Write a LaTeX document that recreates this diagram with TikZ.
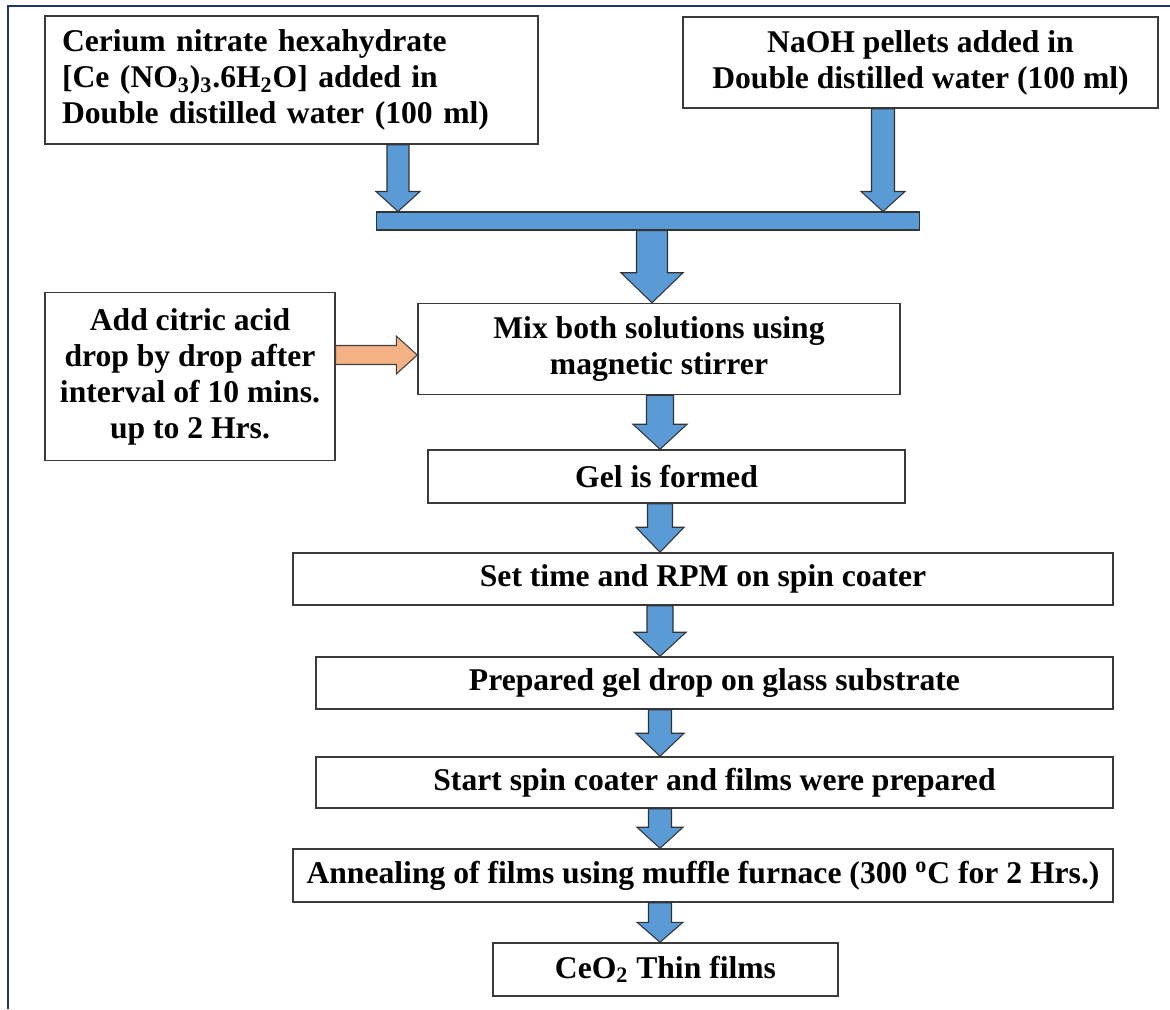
\documentclass[tikz,border=0pt]{standalone}
\usepackage{fontspec}
\setmainfont{Liberation Serif}
\usepackage{tikz}
\usetikzlibrary{calc}

\definecolor{blockblue}{HTML}{5B9BD5}
\definecolor{blockorange}{HTML}{F4B183}
\definecolor{framenavy}{HTML}{1F3864}
\definecolor{edgegray}{HTML}{3A3A3A}

% block arrow: from, to, shaft half-width, head half-width, head length (px)
\newcommand{\downblock}[5]{%
\draw[bluearrow] let \p1=(#1), \p2=(#2) in
 ({\x1-#3*0.02cm},\y1) -- ({\x1-#3*0.02cm},{\y2+#5*0.02cm}) -- ({\x1-#4*0.02cm},{\y2+#5*0.02cm})
 -- (\x1,\y2) -- ({\x1+#4*0.02cm},{\y2+#5*0.02cm}) -- ({\x1+#3*0.02cm},{\y2+#5*0.02cm})
 -- ({\x1+#3*0.02cm},\y1) -- cycle;}
\newcommand{\rightblock}[5]{%
\draw[orangearrow] let \p1=(#1), \p2=(#2) in
 (\x1,{\y1+#3*0.02cm}) -- ({\x2-#5*0.02cm},{\y1+#3*0.02cm}) -- ({\x2-#5*0.02cm},{\y1+#4*0.02cm})
 -- (\x2,\y1) -- ({\x2-#5*0.02cm},{\y1-#4*0.02cm}) -- ({\x2-#5*0.02cm},{\y1-#3*0.02cm})
 -- (\x1,{\y1-#3*0.02cm}) -- cycle;}

\begin{document}
\begin{tikzpicture}[x=0.02cm, y=-0.02cm,
  box/.style={draw=edgegray, line width=0.85pt, inner sep=0pt, align=center,
    font=\bfseries\fontsize{18}{20.5}\selectfont},
  bluearrow/.style={fill=blockblue, draw=black!80, line width=0.6pt, line join=miter},
  orangearrow/.style={fill=blockorange, draw=black!75, line width=0.6pt}]
\useasboundingbox (0,0) rectangle (1170,1009);
\draw[framenavy, line width=1.2pt] (8,1009) -- (8,6) -- (1170,6);

\node[box, align=left, text width=9.18cm, inner xsep=0.34cm, minimum height=2.56cm] (cerium) at (291.5,80)
  {Cerium nitrate hexahydrate\\{}[Ce (NO\textsubscript{3})\textsubscript{3}.6H\textsubscript{2}O] added in\\ Double distilled water (100 ml)};
\node[box, minimum width=9.5cm, minimum height=1.82cm] (naoh) at (920.5,62.5)
  {NaOH pellets added in\\ Double distilled water (100 ml)};
\node[bluearrow, inner sep=0pt, minimum width=10.88cm, minimum height=0.36cm] (mixbar) at (648,221) {};

\node[box, minimum width=5.8cm, minimum height=3.36cm] (citric) at (190,376.5)
  {Add citric acid\\ drop by drop after\\ interval of 10 mins.\\ up to 2 Hrs.};
\node[box, minimum width=9.64cm, minimum height=1.82cm] (mix) at (659,349)
  {Mix both solutions using\\ magnetic stirrer};
\node[box, minimum width=9.54cm, minimum height=1.06cm] (gel) at (666.5,476.5) {Gel is formed};
\node[box, minimum width=16.4cm, minimum height=1.04cm] (settime) at (703,579) {Set time and RPM on spin coater};
\node[box, minimum width=15.94cm, minimum height=1.04cm] (prepgel) at (714.5,683) {Prepared gel drop on glass substrate};
\node[box, minimum width=15.94cm, minimum height=1.02cm] (startspin) at (714.5,782.5) {Start spin coater and films were prepared};
\node[box, minimum width=16.4cm, minimum height=1.06cm] (anneal) at (703,875.5)
  {Annealing of films using muffle furnace (300 \textsuperscript{o}C for 2 Hrs.)};
\node[box, minimum width=6.9cm, minimum height=1.06cm] (ceo) at (665.5,969.5) {CeO\textsubscript{2} Thin films};

\coordinate (spine) at (660,0);

\downblock{[xshift=2.13cm]cerium.south}{mixbar.north}{11}{22}{20}
\downblock{[xshift=-0.75cm]naoh.south}{mixbar.north}{11.5}{22}{20}
\downblock{[xshift=0.08cm]mixbar.south}{mix.north}{15.5}{31}{30}
\rightblock{[yshift=0.43cm]citric.east}{mix.west}{9.5}{19}{21}
\downblock{mix.south -| spine}{gel.north}{13.5}{27}{25}
\downblock{gel.south -| spine}{settime.north}{12.5}{24}{25}
\downblock{settime.south -| spine}{prepgel.north}{13}{26}{24}
\downblock{prepgel.south -| spine}{startspin.north}{11.5}{24}{23}
\downblock{startspin.south -| spine}{anneal.north}{11.5}{23}{21}
\downblock{anneal.south -| spine}{ceo.north}{11.5}{23}{20}
\end{tikzpicture}
\end{document}
